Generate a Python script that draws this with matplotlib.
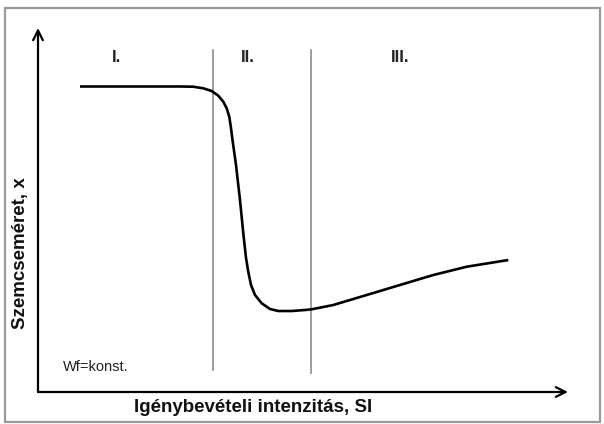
import matplotlib
matplotlib.use("Agg")
import matplotlib.pyplot as plt
from matplotlib.patches import Rectangle

plt.rcParams['font.family'] = ['Liberation Sans', 'DejaVu Sans']

# Schematic curve: particle size vs. stress intensity (arbitrary units 0-100)
si = [7.92, 26.79, 29.30, 31.19, 32.77, 34.02, 34.96, 35.60, 36.09, 36.42,
      36.70, 37.36, 38.11, 38.77, 39.25, 39.68, 40.19, 40.94, 42.21, 43.77,
      45.34, 47.87, 50.38, 51.64, 55.72, 62.02, 68.30, 74.58, 80.89, 88.74]
size = [83.93, 83.93, 83.87, 83.43, 82.69, 81.40, 79.75, 77.94, 75.63, 72.45,
        69.23, 62.36, 52.75, 43.13, 36.81, 32.97, 29.40, 26.65, 24.37, 22.80,
        22.25, 22.25, 22.53, 22.72, 23.90, 26.65, 29.40, 32.14, 34.42, 36.26]

region_bounds = [33.1, 51.5]
region_labels = ["I.", "II.", "III."]
region_label_x = [14.9, 39.6, 68.3]

xlabel = "Igénybevételi intenzitás, SI"
ylabel = "Szemcseméret, x"
note = "Wf=konst."

W, H = 604, 424
fig = plt.figure(figsize=(W / 100, H / 100), dpi=100)
fig.patch.set_facecolor("white")

# outer frame
fig.patches.append(Rectangle((5 / W, 2 / H), 595 / W, 414 / H,
                             transform=fig.transFigure, fill=False,
                             edgecolor="#9a9a9a", linewidth=1.6))

ax = fig.add_axes([38 / W, (H - 392) / H, 530 / W, 364 / H])
ax.set_xlim(0, 100)
ax.set_ylim(0, 100)
ax.axis("off")

# axes arrows
arrow_kw = dict(arrowstyle="->,head_length=0.7,head_width=0.35", color="black",
                lw=1.6, shrinkA=0, shrinkB=0)
ax.annotate("", xy=(100, 0), xytext=(0, 0), arrowprops=arrow_kw, annotation_clip=False)
ax.annotate("", xy=(0, 100), xytext=(0, 0), arrowprops=arrow_kw, annotation_clip=False)

# region boundaries
ax.plot([region_bounds[0]] * 2, [6.0, 94.0], color="#8c8c8c", lw=1.2)
ax.plot([region_bounds[1]] * 2, [5.2, 94.0], color="#8c8c8c", lw=1.2)

# curve
ax.plot(si, size, color="black", lw=1.9, solid_capstyle="butt", solid_joinstyle="round",
        antialiased=True)

for lx, lab in zip(region_label_x, region_labels):
    ax.text(lx, 92.0, lab, ha="center", va="center", fontsize=12, fontweight="bold",
            color="#222222")

ax.text(4.7, 6.9, note, ha="left", va="center", fontsize=10.5, color="#222222")

fig.text(253 / W, 1 - 408 / H, xlabel, ha="center", va="center",
         fontsize=13.5, fontweight="bold", color="#111111")
fig.text(21 / W, 1 - 253 / H, ylabel, ha="center", va="center", rotation=90,
         fontsize=13.5, fontweight="bold", color="#111111")

fig.savefig("out.png", dpi=100)
